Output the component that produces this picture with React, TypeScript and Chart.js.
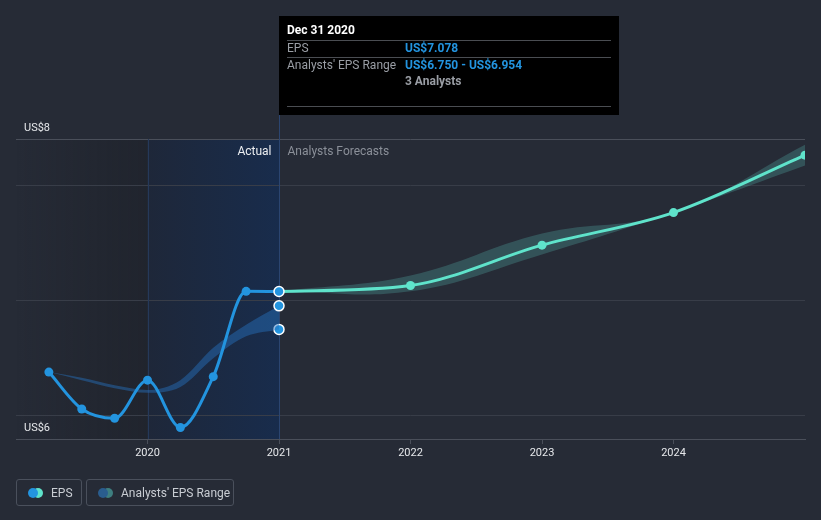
import React, { useEffect, useRef } from "react";
import { Chart, registerables } from "chart.js";

Chart.register(...registerables);

const actualYears = [2019.25, 2019.5, 2019.75, 2020, 2020.25, 2020.5, 2020.75, 2021];
const actualEPS = [6.38, 6.06, 5.98, 6.31, 5.9, 6.34, 7.08, 7.078];
const pastRangeLow = [6.38, 6.31, 6.24, 6.2, 6.25, 6.5, 6.69, 6.75];
const pastRangeHigh = [6.38, 6.33, 6.265, 6.225, 6.31, 6.59, 6.79, 6.954];

const forecastYears = [2021, 2022, 2023, 2024, 2025];
const forecastEPS = [7.078, 7.13, 7.48, 7.762, 8.26];
const forecastLow = [7.078, 7.08, 7.4, 7.762, 8.17];
const forecastHigh = [7.078, 7.216, 7.58, 7.762, 8.35];

const xTickYears = [2020, 2021, 2022, 2023, 2024];
const yGridValues = [6, 7, 8, 8.4];
const yLabels = [
  { value: 8, text: "US$8" },
  { value: 6, text: "US$6" },
];

const tooltipTitle = "Dec 31 2020";
const tooltipRows = [
  { label: "EPS", value: "US$7.078" },
  { label: "Analysts' EPS Range", value: "US$6.750 - US$6.954" },
];
const tooltipNote = "3 Analysts";

const BG = "#262b36";
const BLUE = "#2394df";
const TEAL = "#5fe3cb";
const FONT = "Roboto, 'Noto Sans', sans-serif";

const pts = (xs: number[], ys: number[]) => xs.map((x, i) => ({ x, y: ys[i] }));

const decorPlugin = {
  id: "decor",
  beforeDraw(chart: any) {
    const { ctx, chartArea, scales } = chart;
    const x = scales.x;
    const x0 = chartArea.left;
    const x2020 = x.getPixelForValue(2020);
    const x2021 = x.getPixelForValue(2021);
    ctx.save();
    let g = ctx.createLinearGradient(x0, 0, x2020, 0);
    g.addColorStop(0, "rgba(20,22,28,0)");
    g.addColorStop(1, "rgba(20,22,28,0.3)");
    ctx.fillStyle = g;
    ctx.fillRect(x0, chartArea.top, x2020 - x0, chartArea.bottom - chartArea.top);
    g = ctx.createLinearGradient(x2020, 0, x2021, 0);
    g.addColorStop(0, "#1e2739");
    g.addColorStop(1, "#182c4c");
    ctx.fillStyle = g;
    ctx.fillRect(x2020, chartArea.top, x2021 - x2020, chartArea.bottom - chartArea.top);
    ctx.restore();
  },
  beforeDatasetsDraw(chart: any) {
    const { ctx, chartArea, scales } = chart;
    const x = scales.x;
    const x2020 = Math.round(x.getPixelForValue(2020)) + 0.5;
    const x2021 = Math.round(x.getPixelForValue(2021)) + 0.5;
    ctx.save();
    ctx.lineWidth = 1;
    ctx.strokeStyle = "#25395a";
    ctx.beginPath();
    ctx.moveTo(x2020, chartArea.top);
    ctx.lineTo(x2020, chartArea.bottom);
    ctx.stroke();
    ctx.strokeStyle = "#2b4570";
    ctx.beginPath();
    ctx.moveTo(x2021, 16);
    ctx.lineTo(x2021, chartArea.bottom);
    ctx.stroke();

    ctx.font = `12px ${FONT}`;
    ctx.textBaseline = "middle";
    ctx.textAlign = "right";
    ctx.fillStyle = "#eceef1";
    ctx.fillText("Actual", x2021 - 8, chartArea.top + 13);
    ctx.textAlign = "left";
    ctx.fillStyle = "#8b9099";
    ctx.fillText("Analysts Forecasts", x2021 + 8, chartArea.top + 13);

    const y = scales.y;
    ctx.fillStyle = "#e6e8eb";
    ctx.font = `11px ${FONT}`;
    yLabels.forEach((l, i) => {
      const py = i === 0 ? chartArea.top - 11 : y.getPixelForValue(l.value) + 12;
      ctx.fillText(l.text, chartArea.left + 8, py);
    });
    ctx.restore();
  },
  afterDraw(chart: any) {
    const { ctx, scales } = chart;
    const bx = Math.round(scales.x.getPixelForValue(2021));
    const by = 16;
    const bw = 340;
    const bh = 99;
    ctx.save();
    ctx.fillStyle = "#000000";
    ctx.fillRect(bx, by, bw, bh);
    ctx.strokeStyle = "#4a4d52";
    ctx.lineWidth = 1;
    [40, 57, 106].forEach((ly) => {
      ctx.beginPath();
      ctx.moveTo(bx + 8, ly + 0.5);
      ctx.lineTo(bx + 332, ly + 0.5);
      ctx.stroke();
    });
    ctx.textBaseline = "middle";
    ctx.textAlign = "left";
    ctx.font = `bold 12px ${FONT}`;
    ctx.fillStyle = "#ffffff";
    ctx.fillText(tooltipTitle, bx + 8, 31);
    tooltipRows.forEach((r, i) => {
      const ry = 49 + i * 17;
      ctx.font = `12px ${FONT}`;
      ctx.fillStyle = "#9a9ea5";
      ctx.fillText(r.label, bx + 8, ry);
      ctx.font = `bold 12px ${FONT}`;
      ctx.fillStyle = BLUE;
      ctx.fillText(r.value, bx + 126, ry);
    });
    ctx.font = `bold 12px ${FONT}`;
    ctx.fillStyle = "#9a9ea5";
    ctx.fillText(tooltipNote, bx + 126, 82);
    ctx.restore();
  },
};

export default function App() {
  const ref = useRef<HTMLCanvasElement | null>(null);

  useEffect(() => {
    document.body.style.margin = "0";
    document.body.style.background = BG;
    const canvas = ref.current;
    if (!canvas) return;
    const lastIdx = actualYears.length - 1;
    const chart = new Chart(canvas, {
      type: "line",
      data: {
        datasets: [
          {
            label: "EPS",
            data: pts(actualYears, actualEPS),
            borderColor: BLUE,
            backgroundColor: BLUE,
            borderWidth: 3,
            cubicInterpolationMode: "monotone",
            pointRadius: actualYears.map((_, i) => (i === lastIdx ? 5 : 4.5)),
            pointBorderWidth: actualYears.map((_, i) => (i === lastIdx ? 1.5 : 0)),
            pointBorderColor: "#ffffff",
            pointBackgroundColor: BLUE,
            fill: false,
          },
          {
            label: "EPS forecast",
            data: pts(forecastYears, forecastEPS),
            borderColor: TEAL,
            backgroundColor: TEAL,
            borderWidth: 3,
            cubicInterpolationMode: "monotone",
            pointRadius: forecastYears.map((_, i) => (i === 0 ? 0 : 4.5)),
            pointBorderWidth: 0,
            pointBackgroundColor: TEAL,
            fill: false,
          },
          {
            label: "Range high",
            data: pts(actualYears, pastRangeHigh),
            borderWidth: 0,
            borderColor: "rgba(0,0,0,0)",
            backgroundColor: "rgba(38,110,185,0.48)",
            cubicInterpolationMode: "monotone",
            pointRadius: actualYears.map((_, i) => (i === lastIdx ? 5 : 0)),
            pointBorderWidth: 1.5,
            pointBorderColor: "#ffffff",
            pointBackgroundColor: BLUE,
            fill: "+1",
          },
          {
            label: "Range low",
            data: pts(actualYears, pastRangeLow),
            borderWidth: 0,
            borderColor: "rgba(0,0,0,0)",
            backgroundColor: "rgba(38,110,185,0.48)",
            cubicInterpolationMode: "monotone",
            pointRadius: actualYears.map((_, i) => (i === lastIdx ? 5 : 0)),
            pointBorderWidth: 1.5,
            pointBorderColor: "#ffffff",
            pointBackgroundColor: BLUE,
            fill: false,
          },
          {
            label: "Forecast high",
            data: pts(forecastYears, forecastHigh),
            borderWidth: 0,
            borderColor: "rgba(0,0,0,0)",
            backgroundColor: "rgba(88,190,180,0.27)",
            tension: 0.4,
            pointRadius: 0,
            fill: "+1",
          },
          {
            label: "Forecast low",
            data: pts(forecastYears, forecastLow),
            borderWidth: 0,
            borderColor: "rgba(0,0,0,0)",
            backgroundColor: "rgba(88,190,180,0.27)",
            tension: 0.4,
            pointRadius: 0,
            fill: false,
          },
        ],
      },
      options: {
        animation: false,
        responsive: false,
        devicePixelRatio: 1,
        layout: { padding: { left: 16, right: 16, top: 139, bottom: 0 } },
        plugins: { legend: { display: false }, tooltip: { enabled: false } },
        events: [],
        scales: {
          x: {
            type: "linear",
            min: 2019,
            max: 2025,
            afterBuildTicks: (s: any) => {
              s.ticks = xTickYears.map((v) => ({ value: v }));
            },
            afterFit: (s: any) => {
              s.height = 81;
            },
            grid: {
              drawOnChartArea: false,
              drawTicks: true,
              tickLength: 5,
              color: "#4a4f5a",
            },
            border: { display: true, color: "#4a4f5a", width: 1 },
            ticks: {
              color: "#e6e8eb",
              font: { family: FONT, size: 11 },
              padding: 3,
              maxRotation: 0,
              autoSkip: false,
              callback: (v: any) => String(v),
            },
          },
          y: {
            type: "linear",
            min: 5.8,
            max: 8.4,
            afterBuildTicks: (s: any) => {
              s.ticks = yGridValues.map((v) => ({ value: v }));
            },
            afterFit: (s: any) => {
              s.width = 0;
            },
            grid: {
              drawTicks: false,
              color: (c: any) => (c.tick && c.tick.value === 8.4 ? "#4a4f5a" : "#383d48"),
              lineWidth: 1,
            },
            border: { display: false },
            ticks: { display: false },
          },
        },
      },
      plugins: [decorPlugin],
    } as any);
    return () => chart.destroy();
  }, []);

  const boxStyle: React.CSSProperties = {
    position: "absolute",
    top: 479,
    height: 27,
    boxSizing: "border-box",
    border: "1px solid #4a505c",
    borderRadius: 3,
    display: "flex",
    alignItems: "center",
    fontFamily: FONT,
    fontSize: 12,
    color: "#c9cdd3",
  };
  const dot = (c: string, left: number): React.CSSProperties => ({
    position: "absolute",
    left,
    top: 8,
    width: 10,
    height: 10,
    borderRadius: 5,
    background: c,
  });

  return (
    <div style={{ position: "relative", width: 821, height: 520, background: BG, overflow: "hidden" }}>
      <canvas ref={ref} width={821} height={520} style={{ display: "block" }} />
      <div style={{ ...boxStyle, left: 16, width: 66 }}>
        <span style={dot(TEAL, 16)} />
        <span style={dot(BLUE, 11)} />
        <span style={{ position: "absolute", left: 34 }}>EPS</span>
      </div>
      <div style={{ ...boxStyle, left: 86, width: 148 }}>
        <span style={dot("#3e7f80", 16)} />
        <span style={dot("#2a5d8e", 11)} />
        <span style={{ position: "absolute", left: 34 }}>Analysts' EPS Range</span>
      </div>
    </div>
  );
}
